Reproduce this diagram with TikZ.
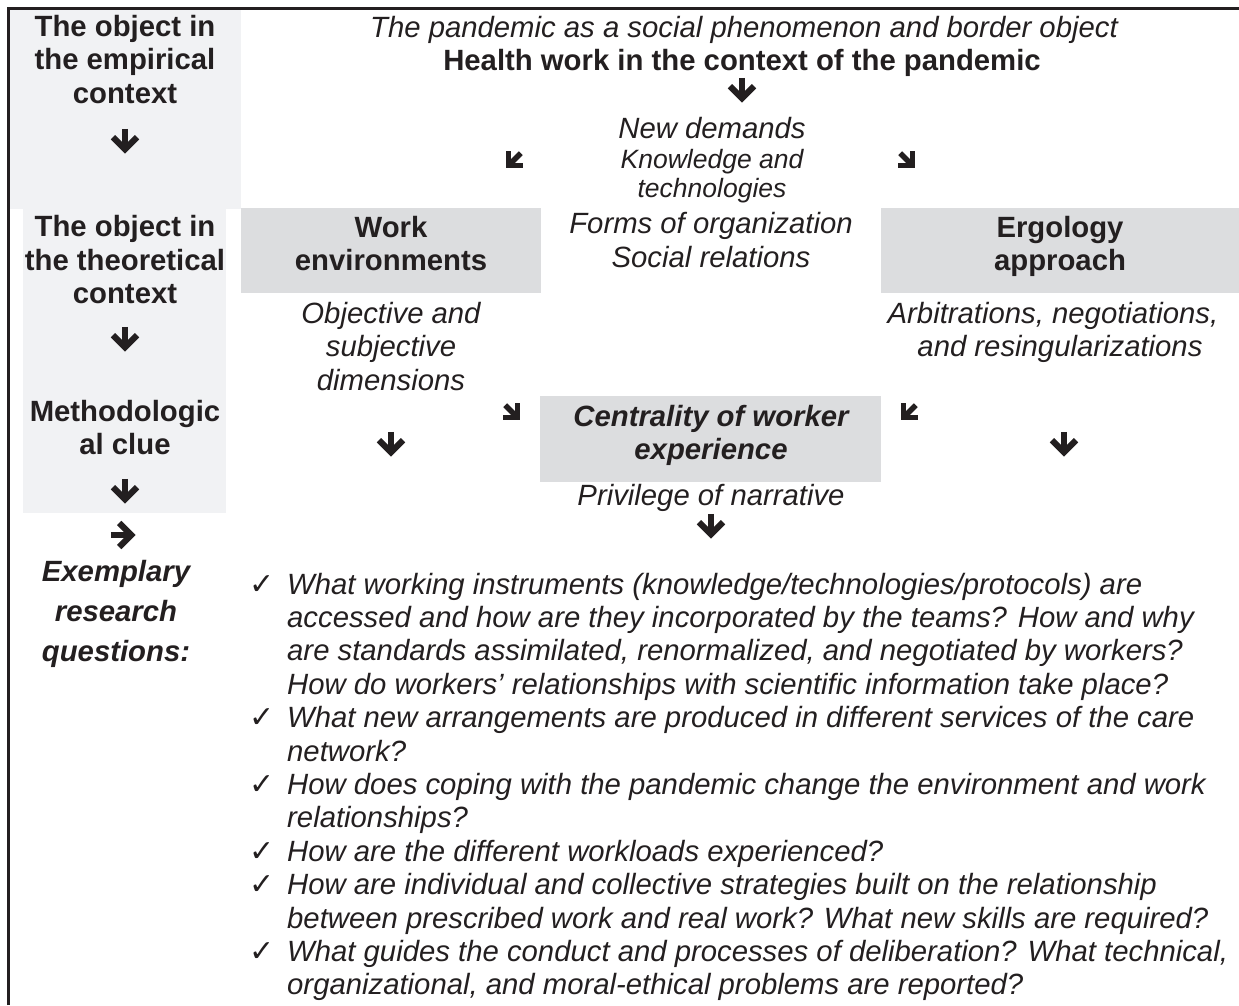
\documentclass[tikz,border=0pt]{standalone}
\usepackage{fontspec}
\setmainfont{Liberation Sans}
\newfontfamily\symfont{DejaVu Sans}
\definecolor{ink}{RGB}{35,31,32}
\definecolor{panel}{RGB}{241,242,244}
\definecolor{boxgray}{RGB}{220,221,223}
\begin{document}
\begin{tikzpicture}[x=1pt,y=-1pt,
  txt/.style={inner sep=0pt, anchor=base, text=ink, font=\fontsize{29.3}{33.4}\selectfont},
  txtb/.style={txt, font=\fontsize{29.3}{33.4}\selectfont\bfseries},
  txti/.style={txt, font=\fontsize{29.3}{33.4}\selectfont\itshape},
  txtbi/.style={txt, font=\fontsize{29.3}{33.4}\selectfont\bfseries\itshape},
  txts/.style={txt, font=\fontsize{26.5}{28}\selectfont\itshape},
  qline/.style={txti, anchor=base west},
  tick/.style={txt, font=\fontsize{30}{30}\symfont},
  bigarrow/.pic={
    \draw[ink, line width=#1, line join=miter] (0,-11) -- (0,6);
    \draw[ink, line width=#1, line join=miter] (-10,-4) -- (0,6) -- (10,-4);
  },
  varr/.style={scale=1.2}
]
\useasboundingbox (0,0) rectangle (1239,1005);

% panels
\fill[panel] (10,10) rectangle (241,208.5);
\fill[panel] (23,208.5) rectangle (226,513);
\fill[boxgray] (241,208) rectangle (541,293);
\fill[boxgray] (881,208) rectangle (1239,293);
\fill[boxgray] (540,396) rectangle (881,482);

% border
\draw[ink, line width=2.7pt] (8.7,1005) -- (8.7,8.7) -- (1239,8.7);

% left column
\node[txtb] (e1) at (125,36.5) {The object in};
\node[txtb] (e2) at (125,69.9) {the empirical};
\node[txtb] (e3) at (125,103.3) {context};
\node[txtb] (t1) at (125,236.5) {The object in};
\node[txtb] (t2) at (125,270) {the theoretical};
\node[txtb] (t3) at (125,303.5) {context};
\node[txtb] (m1) at (125,421.5) {Methodologic};
\node[txtb] (m2) at (125,454.9) {al clue};
\node[txtbi] (x1) at (116,581) {Exemplary};
\node[txtbi] (x2) at (116,621) {research};
\node[txtbi] (x3) at (116,661) {questions:};

\pic[varr] at (125,142) {bigarrow=6.2pt};
\pic[varr] at (125,340) {bigarrow=6.2pt};
\pic[varr] at (125,492) {bigarrow=6.2pt};
\pic[varr, rotate=90] at (124,535) {bigarrow=6.2pt};

% top center
\node[txti] (p1) at (744,37) {The pandemic as a social phenomenon and border object};
\node[txtb] (p2) at (742,70) {Health work in the context of the pandemic};
\pic[varr] at (742,91) {bigarrow=6.2pt};

\node[txti] (n1) at (712,138) {New demands};
\node[txts] (n2) at (712,168.5) {Knowledge and};
\node[txts] (n3) at (712,197) {technologies};
\node[txti] (n4) at (711,233.5) {Forms of organization};
\node[txti] (n5) at (711,267) {Social relations};

\pic[rotate=-45] at (513,161) {bigarrow=5.4pt};
\pic[rotate=45] at (908,161) {bigarrow=5.4pt};

% work environments
\node[txtb] (w1) at (391,237) {Work};
\node[txtb] (w2) at (391,270.5) {environments};
\node[txti] (o1) at (391,323) {Objective and};
\node[txti] (o2) at (391,356.5) {subjective};
\node[txti] (o3) at (391,390) {dimensions};
\pic[varr] at (391,445) {bigarrow=6.2pt};

% ergology
\node[txtb] (g1) at (1060,237) {Ergology};
\node[txtb] (g2) at (1060,270.5) {approach};
\node[txti] (a1) at (1053,323) {Arbitrations, negotiations,};
\node[txti] (a2) at (1060,356.5) {and resingularizations};
\pic[varr] at (1064,445) {bigarrow=6.2pt};

% centrality
\pic[rotate=45] at (513,413) {bigarrow=5.4pt};
\pic[rotate=-45] at (908,413) {bigarrow=5.4pt};
\node[txtbi] (c1) at (711,426) {Centrality of worker};
\node[txtbi] (c2) at (711,459) {experience};
\node[txti] (pr) at (711,505) {Privilege of narrative};
\pic[varr] at (711,527) {bigarrow=6.2pt};

% questions
\node[tick] (k0) at (262,594) {✓};
\node[tick] (k4) at (262,727.6) {✓};
\node[tick] (k6) at (262,794.4) {✓};
\node[tick] (k8) at (262,861.2) {✓};
\node[tick] (k9) at (262,894.6) {✓};
\node[tick] (k11) at (262,961.4) {✓};

\node[qline] (q0) at (287,594) {What working instruments (knowledge/technologies/protocols) are};
\node[qline] (q1) at (287,627.4) {accessed and how are they incorporated by the teams? How and why};
\node[qline] (q2) at (287,660.8) {are standards assimilated, renormalized, and negotiated by workers?};
\node[qline] (q3) at (287,694.2) {How do workers' relationships with scientific information take place?};
\node[qline] (q4) at (287,727.6) {What new arrangements are produced in different services of the care};
\node[qline] (q5) at (287,761) {network?};
\node[qline] (q6) at (287,794.4) {How does coping with the pandemic change the environment and work};
\node[qline] (q7) at (287,827.8) {relationships?};
\node[qline] (q8) at (287,861.2) {How are the different workloads experienced?};
\node[qline] (q9) at (287,894.6) {How are individual and collective strategies built on the relationship};
\node[qline] (q10) at (287,928) {between prescribed work and real work? What new skills are required?};
\node[qline] (q11) at (287,961.4) {What guides the conduct and processes of deliberation? What technical,};
\node[qline] (q12) at (287,994.8) {organizational, and moral-ethical problems are reported?};
\end{tikzpicture}
\end{document}
